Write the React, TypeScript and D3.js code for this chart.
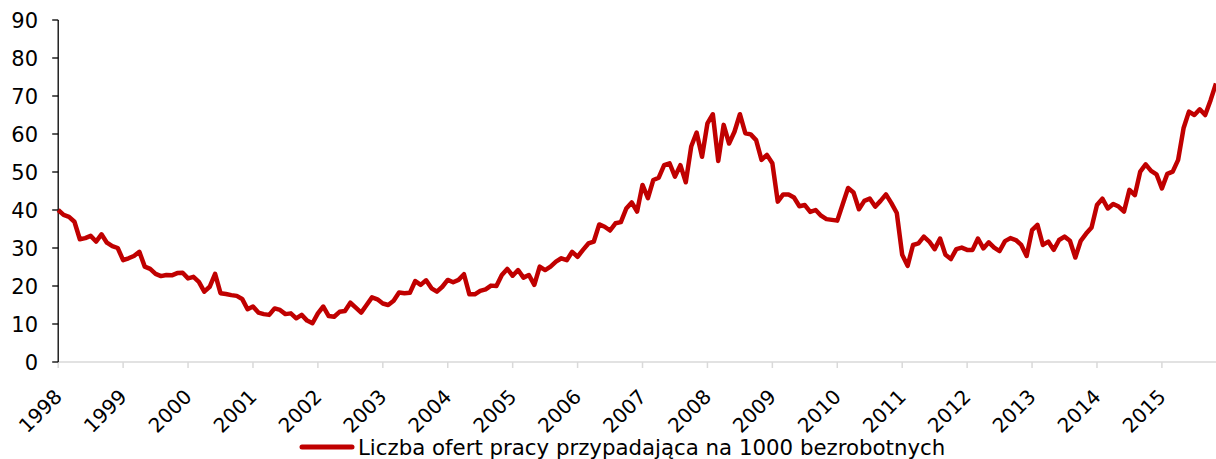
import React, { useEffect, useRef } from "react";
import * as d3 from "d3";

// monthly values, Jan 1998 - Nov 2015
const v1998 = [40.0, 38.7, 38.2, 36.9, 32.3, 32.6, 33.2, 31.7, 33.6, 31.4, 30.5, 30.0];
const v1999 = [26.8, 27.3, 27.9, 29.0, 25.1, 24.5, 23.2, 22.6, 22.9, 22.8, 23.4, 23.5];
const v2000 = [22.0, 22.4, 21.1, 18.5, 19.8, 23.2, 18.1, 17.9, 17.6, 17.4, 16.6, 13.9];
const v2001 = [14.6, 13.0, 12.6, 12.4, 14.1, 13.7, 12.6, 12.8, 11.5, 12.4, 10.9, 10.2];
const v2002 = [12.8, 14.6, 12.1, 11.9, 13.2, 13.4, 15.6, 14.3, 13.0, 15.0, 17.0, 16.5];
const v2003 = [15.4, 15.0, 16.1, 18.3, 18.1, 18.2, 21.3, 20.3, 21.5, 19.4, 18.5, 19.8];
const v2004 = [21.6, 21.0, 21.6, 23.1, 17.8, 17.8, 18.7, 19.1, 20.1, 20.0, 22.9, 24.5];
const v2005 = [22.7, 24.2, 22.2, 22.9, 20.3, 25.1, 24.2, 25.1, 26.4, 27.3, 26.8, 29.0];
const v2006 = [27.7, 29.5, 31.2, 31.7, 36.2, 35.6, 34.6, 36.5, 36.8, 40.4, 42.0, 39.6];
const v2007 = [46.6, 43.1, 47.9, 48.5, 51.8, 52.3, 48.8, 51.8, 47.3, 56.7, 60.4, 54.0];
const v2008 = [62.8, 65.2, 52.9, 62.4, 57.5, 60.6, 65.2, 60.2, 59.9, 58.4, 53.2, 54.5];
const v2009 = [52.3, 42.2, 44.1, 44.1, 43.3, 41.0, 41.3, 39.5, 40.0, 38.5, 37.6, 37.4];
const v2010 = [37.2, 41.5, 45.8, 44.6, 40.2, 42.4, 43.0, 40.9, 42.4, 44.1, 41.8, 39.2];
const v2011 = [28.2, 25.3, 30.8, 31.2, 33.0, 31.7, 29.7, 32.5, 28.2, 27.1, 29.7, 30.1];
const v2012 = [29.5, 29.5, 32.5, 29.9, 31.5, 30.1, 29.2, 31.8, 32.6, 32.1, 30.8, 27.9];
const v2013 = [34.7, 36.1, 30.8, 31.7, 29.5, 32.1, 33.0, 31.9, 27.5, 31.9, 33.8, 35.4];
const v2014 = [41.3, 43.0, 40.4, 41.6, 40.9, 39.6, 45.3, 43.9, 50.1, 52.0, 50.3, 49.4];
const v2015 = [45.7, 49.5, 50.1, 53.2, 61.5, 65.9, 65.0, 66.5, 65.0, 68.9, 73.3];

const years = [
  "1998", "1999", "2000", "2001", "2002", "2003", "2004", "2005", "2006",
  "2007", "2008", "2009", "2010", "2011", "2012", "2013", "2014", "2015",
];
const yTicks = [0, 10, 20, 30, 40, 50, 60, 70, 80, 90];
const seriesName = "Liczba ofert pracy przypadająca na 1000 bezrobotnych";

const values = [
  ...v1998, ...v1999, ...v2000, ...v2001, ...v2002, ...v2003, ...v2004, ...v2005, ...v2006,
  ...v2007, ...v2008, ...v2009, ...v2010, ...v2011, ...v2012, ...v2013, ...v2014, ...v2015,
];

const W = 1216;
const H = 459;
const RED = "#C00000";
const FONT = "'DejaVu Sans', Verdana, sans-serif";

export default function App() {
  const svgRef = useRef<SVGSVGElement>(null);

  useEffect(() => {
    const svg = d3.select(svgRef.current);
    svg.selectAll("*").remove();

    const left = 58.2;
    const right = W;
    const top = 20;
    const bottom = 362;

    const x = d3.scaleLinear().domain([0, values.length - 1]).range([left, right]);
    const y = d3.scaleLinear().domain([0, 90]).range([bottom, top]);

    // x axis (grey) with yearly ticks
    svg.append("line")
      .attr("x1", left).attr("x2", right)
      .attr("y1", y(0)).attr("y2", y(0))
      .attr("stroke", "#d9d9d9").attr("stroke-width", 1.5);

    years.forEach((yr, i) => {
      const xi = x(i * 12);
      svg.append("line")
        .attr("x1", xi).attr("x2", xi)
        .attr("y1", y(0)).attr("y2", y(0) + 6)
        .attr("stroke", "#d9d9d9").attr("stroke-width", 1.5);
      svg.append("text")
        .attr("transform", `translate(${xi + 5},${y(0) + 36}) rotate(-45)`)
        .attr("text-anchor", "end")
        .attr("font-family", FONT)
        .attr("font-size", 20)
        .attr("fill", "#000")
        .text(yr);
    });

    // y axis (black)
    svg.append("line")
      .attr("x1", left).attr("x2", left)
      .attr("y1", y(90)).attr("y2", y(0))
      .attr("stroke", "#000").attr("stroke-width", 1.3);

    yTicks.forEach((t) => {
      svg.append("line")
        .attr("x1", left - 6).attr("x2", left)
        .attr("y1", y(t)).attr("y2", y(t))
        .attr("stroke", "#000").attr("stroke-width", 1.3);
      svg.append("text")
        .attr("x", 38)
        .attr("y", y(t))
        .attr("dy", "0.36em")
        .attr("text-anchor", "end")
        .attr("font-family", FONT)
        .attr("font-size", 21)
        .attr("fill", "#000")
        .text(t);
    });

    const line = d3.line<number>()
      .x((_, i) => x(i))
      .y((d) => y(d));

    svg.append("path")
      .datum(values)
      .attr("d", line)
      .attr("fill", "none")
      .attr("stroke", RED)
      .attr("stroke-width", 4.5)
      .attr("stroke-linejoin", "round");

    // legend
    svg.append("line")
      .attr("x1", 302).attr("x2", 352)
      .attr("y1", 447).attr("y2", 447)
      .attr("stroke", RED).attr("stroke-width", 5)
      .attr("stroke-linecap", "round");
    svg.append("text")
      .attr("x", 358)
      .attr("y", 447)
      .attr("dy", "0.36em")
      .attr("font-family", FONT)
      .attr("font-size", 21.3)
      .attr("fill", "#000")
      .text(seriesName);
  }, []);

  return (
    <svg
      ref={svgRef}
      width={W}
      height={H}
      style={{ position: "absolute", left: 0, top: 0, background: "#fff" }}
    />
  );
}
